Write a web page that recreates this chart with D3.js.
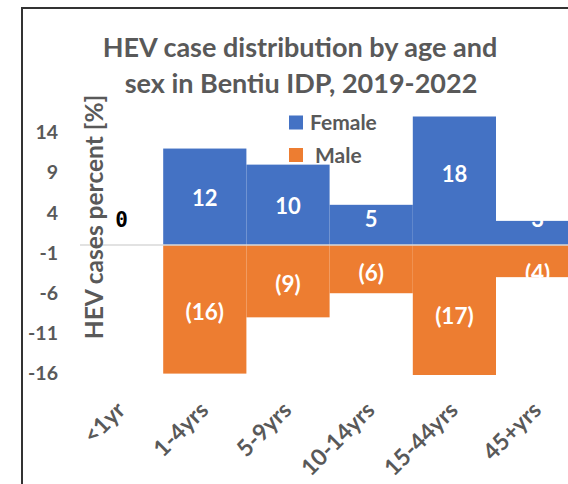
<!DOCTYPE html>
<html>
<head>
<meta charset="utf-8">
<script src="https://cdn.jsdelivr.net/npm/d3@7"></script>
<style>
  body { margin: 0; background: #fff; }
  text { font-family: Lato, "Open Sans", sans-serif; font-weight: 700; }
</style>
</head>
<body>
<div id="chart"></div>
<script>
// Chart data
const ageGroups = ["<1yr", "1-4yrs", "5-9yrs", "10-14yrs", "15-44yrs", "45+yrs"];
const femalePct = [0, 12, 10, 5, 18, 3];
const malePct = [0, -16, -9, -6, -17, -4];
const yTicks = [14, 9, 4, -1, -6, -11, -16];
const seriesNames = ["Female", "Male"];

const W = 568, H = 484;
const blue = "#4472C4", orange = "#ED7D31", grey = "#595959";

const svg = d3.select("#chart").append("svg")
    .attr("width", W)
    .attr("height", H);

// Frame of the chart area (cropped at right and bottom)
svg.append("rect")
    .attr("x", 22).attr("y", 8)
    .attr("width", 620).attr("height", 600)
    .attr("fill", "#fff")
    .attr("stroke", "#333")
    .attr("stroke-width", 2);

// Scales
const x = d3.scaleBand()
    .domain(ageGroups)
    .range([80, 579.2])
    .padding(0);

const y = d3.scaleLinear()
    .domain([-16, 16])
    .range([373.6, 116.4]);

// Clip the bars to the plot area
svg.append("clipPath").attr("id", "plot-clip")
    .append("rect")
    .attr("x", 80).attr("y", y(16))
    .attr("width", 500).attr("height", y(-16) - y(16) + 1.5);

const plot = svg.append("g").attr("clip-path", "url(#plot-clip)");

// Female bars
plot.selectAll(".bar-f")
    .data(femalePct)
    .enter()
    .append("rect")
    .attr("class", "bar-f")
    .attr("x", (d, i) => x(ageGroups[i]))
    .attr("y", d => y(Math.max(0, d)))
    .attr("width", x.bandwidth())
    .attr("height", d => Math.abs(y(d) - y(0)))
    .attr("fill", blue);

// Male bars
plot.selectAll(".bar-m")
    .data(malePct)
    .enter()
    .append("rect")
    .attr("class", "bar-m")
    .attr("x", (d, i) => x(ageGroups[i]))
    .attr("y", y(0))
    .attr("width", x.bandwidth())
    .attr("height", d => Math.abs(y(d) - y(0)))
    .attr("fill", orange);

// Zero line
svg.append("line")
    .attr("x1", 80).attr("x2", 580)
    .attr("y1", y(0)).attr("y2", y(0))
    .attr("stroke", "#d9d9d9")
    .attr("stroke-width", 1.5);

// Data labels (white, centred, pushed away from the zero line on short bars)
const labels = svg.append("g");
femalePct.forEach((v, i) => {
    if (v === 0) return;
    labels.append("text")
        .attr("x", x(ageGroups[i]) + x.bandwidth() / 2)
        .attr("y", Math.min(y(v / 2) + 1, y(0) - 26))
        .attr("dy", "0.36em")
        .attr("text-anchor", "middle")
        .attr("fill", "#fff")
        .style("font-size", "22px")
        .text(v);
});
malePct.forEach((v, i) => {
    if (v === 0) return;
    labels.append("text")
        .attr("x", x(ageGroups[i]) + x.bandwidth() / 2)
        .attr("y", Math.max(y(v / 2) + 3, y(0) + 28))
        .attr("dy", "0.36em")
        .attr("text-anchor", "middle")
        .attr("fill", "#fff")
        .style("font-size", "22.5px")
        .text(`(${Math.abs(v)})`);
});

// Zero-value label of the first group
svg.append("text")
    .attr("x", x(ageGroups[0]) + x.bandwidth() / 2)
    .attr("y", y(0) - 26)
    .attr("dy", "0.36em")
    .attr("text-anchor", "middle")
    .attr("fill", "#000")
    .style("font-family", "'DejaVu Sans Mono', monospace")
    .style("font-size", "21px")
    .text(femalePct[0]);

// Y axis labels
svg.append("g")
    .attr("transform", "translate(58,0)")
    .call(d3.axisLeft(y).tickValues(yTicks).tickSize(0).tickPadding(0)
        .tickFormat(d => String(d)))
    .call(g => g.select(".domain").remove())
    .selectAll("text")
    .attr("fill", grey)
    .style("font-family", "Lato, sans-serif")
    .style("font-size", "19.5px");

// X axis labels, rotated
svg.append("g")
    .attr("transform", `translate(0,${y(-16)})`)
    .call(d3.axisBottom(x).tickSize(0).tickPadding(0))
    .call(g => g.select(".domain").remove())
    .selectAll("text")
    .attr("fill", grey)
    .style("font-family", "Lato, sans-serif")
    .style("font-size", "23px")
    .attr("text-anchor", "end")
    .attr("dy", "0")
    .attr("transform", "translate(5,38) rotate(-45)");

// Y axis title
svg.append("text")
    .attr("transform", "translate(103,217) rotate(-90)")
    .attr("text-anchor", "middle")
    .attr("fill", grey)
    .style("font-size", "24.5px")
    .text("HEV cases percent [%]");

// Chart title
const title = svg.append("text")
    .attr("text-anchor", "middle")
    .attr("fill", grey)
    .style("font-size", "27px");
title.append("tspan").attr("x", 300).attr("y", 57).text("HEV case distribution by age and");
title.append("tspan").attr("x", 301).attr("y", 93).text("sex in Bentiu IDP, 2019-2022");

// Legend
const legend = svg.append("g");
const legendRows = [
    {name: seriesNames[0], color: blue, cy: 122.5, tx: 310},
    {name: seriesNames[1], color: orange, cy: 155, tx: 315}
];
legend.selectAll("rect")
    .data(legendRows)
    .enter()
    .append("rect")
    .attr("x", 289)
    .attr("y", d => d.cy - 7)
    .attr("width", 14).attr("height", 14)
    .attr("fill", d => d.color);
legend.selectAll("text")
    .data(legendRows)
    .enter()
    .append("text")
    .attr("x", d => d.tx)
    .attr("y", d => d.cy)
    .attr("dy", "0.36em")
    .attr("fill", grey)
    .style("font-size", "21px")
    .text(d => d.name);
</script>
</body>
</html>
